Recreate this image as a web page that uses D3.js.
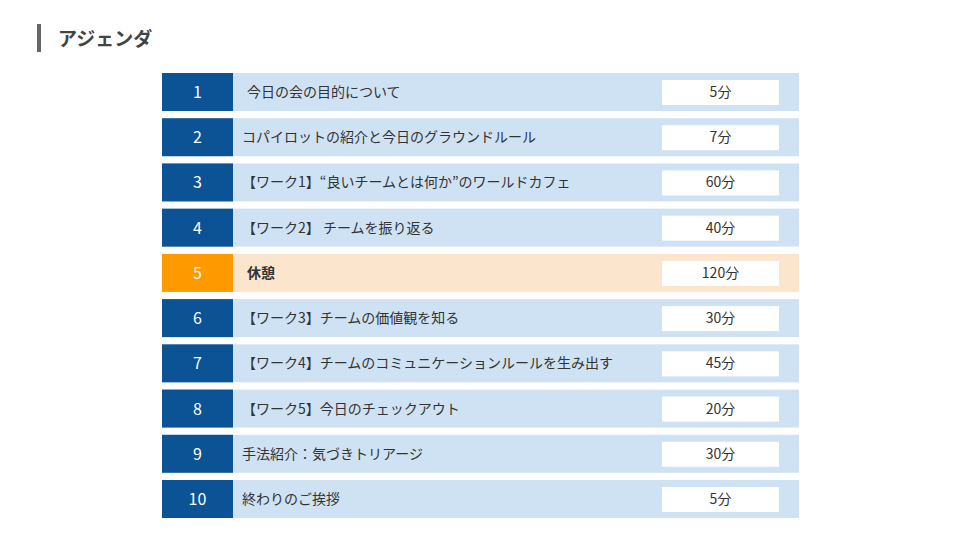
<!DOCTYPE html>
<html><head><meta charset="utf-8">
<script src="https://cdn.jsdelivr.net/npm/d3@7"></script>
<style>body{margin:0;background:#fff}</style></head>
<body><svg id="c" width="960" height="540"></svg>
<script>
const numbers = ["1","2","3","4","5","6","7","8","9","10"];
const items = ["今日の会の目的について","コパイロットの紹介と今日のグラウンドルール","【ワーク1】“良いチームとは何か”のワールドカフェ","【ワーク2】 チームを振り返る","休憩","【ワーク3】チームの価値観を知る","【ワーク4】チームのコミュニケーションルールを生み出す","【ワーク5】今日のチェックアウト","手法紹介：気づきトリアージ","終わりのご挨拶"];
const durations = ["5分","7分","60分","40分","120分","30分","45分","20分","30分","5分"];
const breakFlags = [false,false,false,false,true,false,false,false,false,false];
const font = "'Noto Sans CJK JP','Noto Sans',sans-serif";
const svg = d3.select("#c");
svg.append("rect").attr("x",37).attr("y",24).attr("width",4).attr("height",28).attr("fill","#666");
svg.append("text").attr("x",58).attr("y",46).text("アジェンダ").attr("font-family",font).attr("font-size",19).attr("font-weight",700).attr("fill","#434343");
const y = d3.scaleBand().domain(numbers).range([73,518]).paddingInner(0.16).paddingOuter(0);
const x = d3.scaleLinear().domain([0,1]).range([162,799]);
const g = svg.selectAll("g.row").data(numbers).join("g").attr("transform",d=>`translate(0,${y(d)})`);
const h = y.bandwidth();
g.append("rect").attr("x",x(0)).attr("width",x(1)-x(0)).attr("height",h).attr("fill",(d,i)=>breakFlags[i]?"#fce5cd":"#cfe2f3");
g.append("rect").attr("x",x(0)).attr("width",71).attr("height",h).attr("fill",(d,i)=>breakFlags[i]?"#ff9900":"#0b5394");
g.append("text").attr("x",x(0)+35.5).attr("y",h/2+6).attr("text-anchor","middle").text(d=>d).attr("font-family",font).attr("font-size",16).attr("fill","#fff");
g.append("text").attr("x",(d,i)=>i===0||i===4?247:242).attr("y",h/2+5).text((d,i)=>items[i]).attr("font-family",font).attr("font-size",14).attr("font-weight",(d,i)=>breakFlags[i]?700:400).attr("fill","#333");
g.append("rect").attr("x",662).attr("y",7).attr("width",117).attr("height",h-13).attr("fill","#fff");
g.append("text").attr("x",720.5).attr("y",h/2+5).attr("text-anchor","middle").text((d,i)=>durations[i]).attr("font-family",font).attr("font-size",14).attr("fill","#333");
</script></body></html>
